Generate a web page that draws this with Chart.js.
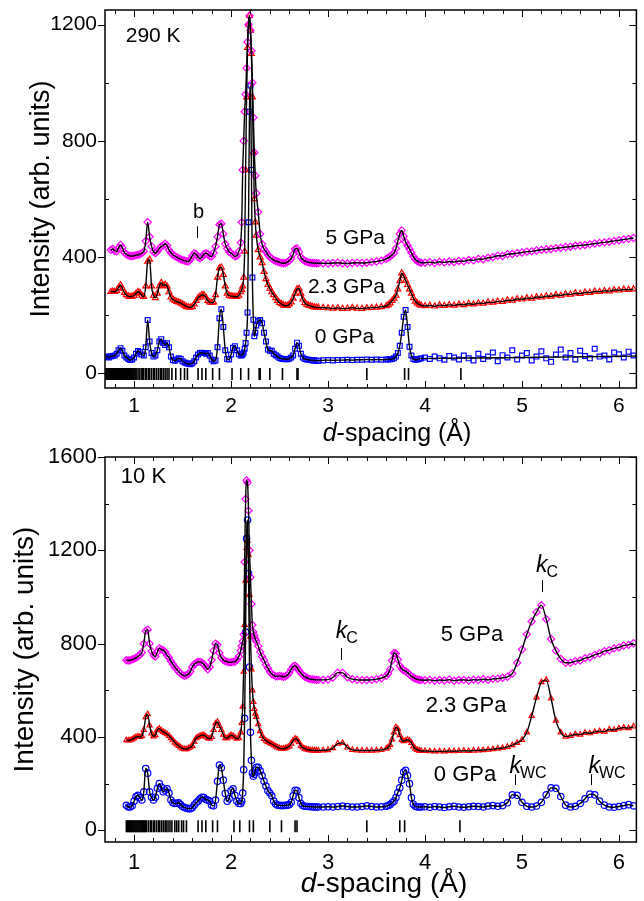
<!DOCTYPE html>
<html>
<head>
<meta charset="utf-8">
<script src="https://cdn.jsdelivr.net/npm/chart.js@4.4.0/dist/chart.umd.min.js"></script>
<style>
  html, body { margin: 0; padding: 0; background: #fff; }
  #wrap { position: relative; width: 644px; height: 901px; overflow: hidden; }
  #wrap canvas { position: absolute; left: 0; }
  #topChart { top: 0; }
  #bottomChart { top: 440px; }
</style>
</head>
<body>
<div id="wrap">
  <canvas id="topChart" width="644" height="455"></canvas>
  <canvas id="bottomChart" width="644" height="461"></canvas>
</div>
<script>
// d-spacing grid (Å), shared by every pattern
const dSpacing = [
  0.70, 0.72, 0.74, 0.76, 0.78, 0.80, 0.82, 0.84, 0.86, 0.88,
  0.90, 0.92, 0.94, 0.96, 0.98, 1.00, 1.02, 1.04, 1.06, 1.08,
  1.10, 1.12, 1.14, 1.16, 1.18, 1.20, 1.22, 1.24, 1.26, 1.28,
  1.30, 1.32, 1.34, 1.36, 1.38, 1.40, 1.42, 1.44, 1.46, 1.48,
  1.50, 1.52, 1.54, 1.56, 1.58, 1.60, 1.62, 1.64, 1.66, 1.68,
  1.70, 1.72, 1.74, 1.76, 1.78, 1.80, 1.82, 1.84, 1.86, 1.88,
  1.90, 1.92, 1.94, 1.96, 1.98, 2.00, 2.02, 2.04, 2.06, 2.08,
  2.10,
  2.11, 2.12, 2.13, 2.14, 2.15, 2.16, 2.17, 2.18, 2.19, 2.20, 2.21, 2.22, 2.23, 2.24, 2.25, 2.26,
  2.28, 2.30, 2.32, 2.34, 2.36, 2.38, 2.40, 2.42, 2.44, 2.46, 2.48, 2.50, 2.52, 2.54, 2.56, 2.58,
  2.60, 2.62, 2.64, 2.66, 2.68, 2.70, 2.72, 2.74, 2.76, 2.78, 2.80, 2.82, 2.84, 2.86, 2.88, 2.90,
  2.95, 3.00, 3.05, 3.10, 3.15, 3.20, 3.25, 3.30, 3.35, 3.40, 3.45, 3.50, 3.55, 3.60,
  3.62, 3.64, 3.66, 3.68, 3.70, 3.72, 3.74, 3.76, 3.78, 3.80, 3.82, 3.84, 3.86, 3.88, 3.90, 3.92, 3.94, 3.96,
  4.00, 4.05, 4.10, 4.15, 4.20, 4.25, 4.30, 4.35, 4.40, 4.45,
  4.50, 4.55, 4.60, 4.65, 4.70, 4.75, 4.80, 4.85, 4.90, 4.95,
  5.00, 5.05, 5.10, 5.15, 5.20, 5.25, 5.30, 5.35, 5.40, 5.45,
  5.50, 5.55, 5.60, 5.65, 5.70, 5.75, 5.80, 5.85, 5.90, 5.95,
  6.00, 6.05, 6.10, 6.15
];

// 290 K patterns
const top5 = [
  null, null, null, 425, 428, 422, 420, 432, 442, 432,
  416, 410, 406, 404, 404, 405, 407, 408, 410, 414,
  420, 455, 520, 470, 437, 418, 414, 420, 430, 437,
  440, 446, 440, 425, 415, 408, 404, 400, 396, 393,
  390, 388, 386, 385, 392, 405, 414, 410, 400, 396,
  400, 410, 414, 410, 404, 402, 415, 437, 470, 512,
  515, 480, 445, 430, 418, 414, 408, 403, 405, 420,
  450,
  520, 700, 800, 900, 960, 1050, 1140, 1200, 1230, 1180, 1110, 1000, 880, 760, 680, 620,
  555, 480, 445, 428, 419, 408, 400, 395, 390, 387, 385, 382, 380, 379, 380, 383,
  388, 395, 410, 428, 430, 418, 400, 392, 387, 384, 382, 381, 380, 380, 379, 379,
  379, 378, 380, 381, 379, 378, 380, 381, 380, 381, 383, 385, 388, 394,
  398, 402, 408, 414, 430, 455, 480, 492, 472, 452, 440, 428, 415, 402, 392, 387, 383, 381,
  381, 383, 380, 384, 382, 385, 383, 387, 386, 390,
  389, 394, 393, 398, 400, 405, 404, 410, 411, 414,
  416, 419, 420, 423, 425, 427, 428, 431, 432, 435,
  436, 439, 440, 442, 444, 447, 449, 451, 453, 456,
  458, 461, 463, 466
];
const top23 = [
  null, null, null, 281, 282, 281, 285, 295, 304, 292,
  278, 270, 266, 264, 265, 268, 275, 281, 278, 268,
  264, 300, 385, 392, 300, 268, 260, 275, 300, 312,
  302, 306, 300, 280, 262, 255, 250, 247, 245, 242,
  238, 234, 230, 228, 227, 230, 238, 250, 260, 266,
  270, 270, 262, 250, 245, 243, 245, 270, 330, 362,
  365, 340, 300, 275, 268, 266, 265, 264, 264, 268,
  280,
  288, 300, 330, 420, 700, 950, 1120, 1200, 1230, 1180, 1100, 950, 760, 600, 520, 475,
  425, 400, 380, 350, 325, 305, 292, 280, 270, 260, 250, 243, 239, 235, 233, 233,
  238, 245, 258, 275, 290, 292, 275, 255, 243, 237, 234, 232, 230, 228, 227, 227,
  226, 225, 224, 225, 223, 224, 226, 224, 223, 225, 226, 227, 229, 232,
  236, 242, 250, 258, 268, 290, 318, 345, 335, 320, 305, 290, 275, 260, 248, 242, 237, 234,
  232, 234, 231, 235, 233, 236, 234, 238, 236, 240,
  238, 242, 241, 245, 244, 248, 247, 252, 251, 256,
  255, 259, 258, 263, 262, 266, 265, 270, 268, 273,
  272, 276, 274, 279, 278, 282, 281, 284, 283, 287,
  286, 289, 288, 290
];
const top0 = [
  57, 58, 55, 58, 60, 62, 68, 80, 87, 78,
  62, 55, 50, 46, 48, 55, 68, 77, 74, 65,
  62, 90, 184, 110, 70, 58, 62, 80, 110, 118,
  105, 98, 104, 90, 58, 46, 44, 48, 52, 50,
  42, 38, 35, 33, 32, 35, 42, 55, 65, 70,
  71, 70, 68, 70, 62, 48, 42, 45, 90, 190,
  221, 160, 80, 50, 48, 65, 88, 94, 80, 66,
  62,
  63, 66, 72, 85, 105, 140, 210, 520, 900, 990, 700, 330, 185, 128, 140, 165,
  180, 184, 173, 140, 110, 82, 78, 78, 68, 63, 58, 53, 51, 50, 49, 49,
  51, 55, 62, 85, 106, 95, 68, 55, 50, 48, 47, 46, 45, 45, 44, 44,
  45, 46, 45, 46, 46, 47, 46, 47, 47, 48, 47, 48, 47, 48,
  48, 49, 50, 52, 58, 70, 95, 140, 195, 218, 160, 92, 62, 50, 47, 48, 50, 52,
  55, 50, 58, 52, 47, 60, 55, 48, 62, 52,
  45, 68, 50, 58, 72, 42, 63, 55, 80, 48,
  62, 70, 45, 58, 76, 52, 40, 65, 82, 55,
  70, 48, 78, 60, 52, 85, 58, 62, 48, 72,
  66, 55, 75, 62
];
// smooth fit under the noisy 0 GPa tail
const top0FitD = [4.0, 4.5, 5.0, 5.5, 6.0, 6.18];
const top0Fit = [52, 53, 55, 57, 59, 60];

// 10 K patterns
const bot5 = [
  null, null, null, null, null, null, null, null, null, null,
  null, 729, 728, 729, 732, 735, 740, 745, 752, 762,
  800, 855, 860, 800, 768, 750, 745, 765, 780, 775,
  772, 765, 750, 740, 725, 712, 700, 690, 680, 672,
  665, 662, 665, 670, 680, 700, 712, 718, 722, 722,
  718, 712, 700, 690, 700, 730, 770, 800, 795, 760,
  740, 730, 725, 722, 720, 720, 722, 722, 730, 745,
  770,
  790, 810, 840, 1150, 1420, 1500, 1490, 1370, 1200, 1085, 970, 880, 850, 835, 820, 810,
  790, 765, 745, 729, 710, 695, 680, 670, 665, 660, 660, 662, 660, 658, 660, 665,
  675, 690, 702, 706, 698, 685, 675, 665, 658, 655, 650, 648, 647, 646, 645, 645,
  645, 646, 655, 676, 675, 656, 648, 645, 644, 644, 645, 648, 652, 662,
  672, 690, 728, 760, 758, 732, 705, 692, 686, 682, 676, 668, 660, 655, 650, 647, 645, 644,
  643, 645, 641, 644, 642, 646, 641, 644, 645, 642,
  646, 644, 648, 645, 649, 650, 654, 658, 672, 718,
  775, 840, 895, 935, 965, 905, 820, 770, 735, 718,
  718, 725, 728, 738, 742, 752, 758, 768, 772, 780,
  784, 792, 795, 802
];
const bot23 = [
  null, null, null, null, null, null, null, null, null, null,
  null, 386, 385, 386, 390, 395, 400, 402, 400, 405,
  430, 485, 498, 450, 415, 403, 408, 430, 436, 428,
  422, 418, 412, 405, 395, 386, 376, 368, 362, 355,
  350, 348, 348, 352, 356, 362, 380, 395, 400, 405,
  408, 408, 402, 395, 393, 400, 430, 458, 465, 448,
  430, 410, 395, 395, 402, 408, 405, 398, 393, 396,
  420,
  460, 530, 680, 880, 1070, 1210, 1240, 1180, 1010, 830, 690, 600, 550, 520, 500, 486,
  455, 425, 405, 392, 384, 379, 374, 370, 365, 360, 355, 352, 350, 350, 352, 355,
  360, 372, 385, 393, 390, 378, 362, 355, 350, 347, 345, 343, 343, 342, 342, 342,
  343, 344, 352, 372, 375, 355, 345, 343, 342, 342, 342, 343, 345, 350,
  356, 366, 390, 420, 442, 435, 408, 388, 382, 385, 388, 385, 375, 360, 350, 345, 342, 340,
  340, 339, 338, 339, 338, 340, 339, 340, 341, 340,
  342, 343, 344, 346, 348, 350, 353, 358, 365, 375,
  388, 420, 490, 570, 635, 645, 565, 470, 420, 402,
  405, 412, 410, 418, 416, 422, 425, 423, 432, 430,
  437, 440, 438, 445
];
const bot0 = [
  null, null, null, null, null, null, null, null, null, null,
  null, 107, 100, 100, 105, 125, 145, 150, 140, 130,
  165, 265, 245, 165, 142, 130, 142, 180, 200, 185,
  165, 172, 178, 160, 130, 118, 115, 116, 118, 110,
  102, 98, 95, 93, 93, 97, 108, 118, 125, 135,
  142, 140, 132, 130, 125, 108, 105, 130, 210, 280,
  268, 215, 158, 125, 135, 170, 178, 150, 125, 115,
  115,
  125, 160, 260, 480, 850, 1250, 1330, 1100, 700, 420, 300, 245, 232, 240, 258, 270,
  270, 255, 235, 210, 190, 170, 160, 148, 125, 113, 108, 107, 106, 106, 107, 108,
  110, 120, 148, 172, 170, 140, 115, 106, 103, 102, 102, 101, 101, 100, 100, 100,
  100, 101, 100, 102, 104, 102, 100, 100, 102, 105, 102, 100, 101, 103,
  106, 110, 118, 125, 140, 162, 182, 215, 250, 257, 235, 200, 140, 112, 103, 100, 100, 100,
  101, 99, 102, 100, 98, 101, 103, 100, 99, 101,
  103, 102, 100, 104, 106, 103, 106, 118, 152, 150,
  120, 103, 100, 104, 120, 152, 182, 180, 145, 108,
  100, 103, 115, 135, 155, 152, 125, 108, 100, 99,
  102, 106, 110, 105
];

// reflection markers (Å)
const braggTop = [
  0.71, 0.72, 0.73, 0.74, 0.75, 0.76, 0.77, 0.78, 0.79, 0.80,
  0.81, 0.82, 0.83, 0.84, 0.85, 0.86, 0.87, 0.88, 0.89, 0.90,
  0.91, 0.92, 0.93, 0.94, 0.95, 0.96, 0.97, 0.98, 0.99, 1.00,
  1.01, 1.02, 1.03, 1.05, 1.06, 1.08, 1.09, 1.10, 1.12, 1.13,
  1.15, 1.16, 1.18, 1.20, 1.21, 1.23, 1.25, 1.27, 1.28, 1.30,
  1.32, 1.34, 1.36, 1.39, 1.43, 1.48, 1.52, 1.55, 1.66, 1.70,
  1.74, 1.81, 1.88, 2.01, 2.10, 2.18, 2.29, 2.30, 2.40, 2.53,
  2.68, 2.69, 3.40, 3.79, 3.83, 4.37
];
const braggBottom = [
  0.92, 0.93, 0.94, 0.95, 0.96, 0.97, 0.98, 0.99, 1.00, 1.01,
  1.02, 1.03, 1.04, 1.05, 1.06, 1.07, 1.08, 1.09, 1.10, 1.11,
  1.12, 1.13, 1.15, 1.17, 1.18, 1.20, 1.21, 1.23, 1.25, 1.26,
  1.28, 1.30, 1.32, 1.33, 1.35, 1.37, 1.39, 1.42, 1.44, 1.46,
  1.49, 1.51, 1.54, 1.66, 1.70, 1.74, 1.81, 1.86, 2.03, 2.09,
  2.19, 2.23, 2.40, 2.52, 2.66, 2.68, 3.40, 3.74, 3.79, 4.36
];

const xTicks = [1, 2, 3, 4, 5, 6];
const yTicksTop = [0, 400, 800, 1200];
const yTicksBottom = [0, 400, 800, 1200, 1600];

const FONT = "'Liberation Sans', Arial, Helvetica, sans-serif";
const MAGENTA = '#ff00ff', RED = '#ff0000', BLUE = '#0000ff';

function pts(ys) {
  return dSpacing.map((d, i) => ({ x: d, y: ys[i] })).filter(p => p.y != null);
}

// frame with inward ticks (Origin style)
const framePlugin = {
  id: 'frame',
  afterDatasetsDraw(chart) {
    const { ctx, chartArea: a, scales: { x, y } } = chart;
    ctx.save();
    ctx.strokeStyle = '#000';
    ctx.lineWidth = 1.5;
    ctx.strokeRect(a.left, a.top, a.right - a.left, a.bottom - a.top);
    ctx.lineWidth = 1;
    ctx.beginPath();
    for (let k = 4; k / 5 <= x.max; k++) {
      const px = Math.round(x.getPixelForValue(k / 5)) + 0.5;
      const len = k % 5 === 0 ? 7 : 4;
      ctx.moveTo(px, a.bottom); ctx.lineTo(px, a.bottom - len);
      ctx.moveTo(px, a.top); ctx.lineTo(px, a.top + len);
    }
    for (let v = 0; v <= y.max; v += 200) {
      const py = Math.round(y.getPixelForValue(v)) + 0.5;
      if (v % 400 === 0) {
        ctx.moveTo(a.left - 7, py); ctx.lineTo(a.left, py);
        ctx.moveTo(a.right, py); ctx.lineTo(a.right - 7, py);
      } else {
        ctx.moveTo(a.left, py); ctx.lineTo(a.left + 4, py);
        ctx.moveTo(a.right, py); ctx.lineTo(a.right - 4, py);
      }
    }
    ctx.stroke();
    ctx.restore();
  }
};

// labels, small marker ticks and the x title
const notesPlugin = {
  id: 'notes',
  afterDraw(chart, args, opts) {
    const { ctx, scales: { x, y } } = chart;
    ctx.save();
    ctx.fillStyle = '#000';
    ctx.strokeStyle = '#000';
    ctx.lineWidth = 1;
    (opts.items || []).forEach(n => {
      if (n.t === 'text') {
        ctx.font = `${n.size}px ${FONT}`;
        ctx.textAlign = n.align || 'center';
        ctx.textBaseline = 'middle';
        ctx.fillText(n.text, x.getPixelForValue(n.x), y.getPixelForValue(n.y));
      } else if (n.t === 'tick') {
        const px = Math.round(x.getPixelForValue(n.x)) + 0.5;
        ctx.beginPath();
        ctx.moveTo(px, y.getPixelForValue(n.y1));
        ctx.lineTo(px, y.getPixelForValue(n.y2));
        ctx.stroke();
      } else if (n.t === 'k') {
        const px = x.getPixelForValue(n.x), py = y.getPixelForValue(n.y);
        ctx.textAlign = 'left';
        ctx.textBaseline = 'alphabetic';
        ctx.font = `italic 23px ${FONT}`;
        ctx.fillText('k', px, py);
        const w = ctx.measureText('k').width;
        ctx.font = `16px ${FONT}`;
        ctx.fillText(n.sub, px + w - 1, py + 5);
      }
    });
    const t = opts.xTitle;
    if (t) {
      ctx.textBaseline = 'middle';
      ctx.textAlign = 'left';
      ctx.font = `italic ${t.size}px ${FONT}`;
      const w1 = ctx.measureText('d').width;
      ctx.font = `${t.size}px ${FONT}`;
      const rest = '-spacing (Å)';
      const w2 = ctx.measureText(rest).width;
      const x0 = t.cx - (w1 + w2) / 2;
      ctx.font = `italic ${t.size}px ${FONT}`;
      ctx.fillText('d', x0, t.cy);
      ctx.font = `${t.size}px ${FONT}`;
      ctx.fillText(rest, x0 + w1, t.cy);
    }
    ctx.restore();
  }
};

function makePanel(id, p) {
  const datasets = [];
  p.series.forEach(s => {
    datasets.push({
      data: s.line || pts(s.ys), showLine: true, borderColor: '#000', borderWidth: 1.4,
      pointRadius: 0, cubicInterpolationMode: 'monotone', order: 0
    });
    datasets.push({
      data: pts(s.ys), showLine: false, pointStyle: s.style, pointRadius: s.radius,
      borderColor: s.color, pointBorderColor: s.color, pointBackgroundColor: 'rgba(0,0,0,0)',
      pointBorderWidth: 1.2, order: 1
    });
  });
  datasets.push({
    data: p.bragg.map(d => ({ x: d, y: p.braggY })), showLine: false, pointStyle: 'line',
    rotation: 90, pointRadius: 6, borderColor: '#000', pointBorderColor: '#000',
    pointBorderWidth: 1.6, order: 2
  });

  return new Chart(document.getElementById(id), {
    type: 'scatter',
    data: { datasets },
    options: {
      responsive: false,
      animation: false,
      devicePixelRatio: 1,
      layout: { padding: { top: p.padTop, left: 0, right: 0, bottom: 0 } },
      plugins: {
        legend: { display: false },
        tooltip: { enabled: false },
        notes: { items: p.notes, xTitle: p.xTitle }
      },
      scales: {
        x: {
          type: 'linear', min: 0.7, max: 6.18,
          grid: { display: false, drawTicks: false },
          border: { display: false },
          ticks: {
            font: { family: FONT, size: p.tickSize }, color: '#000', padding: p.xPad,
            callback: v => String(v)
          },
          afterBuildTicks: s => { s.ticks = xTicks.map(v => ({ value: v })); },
          afterFit: s => { s.height = p.xHeight; s.paddingLeft = 0; s.paddingRight = 0; }
        },
        y: {
          type: 'linear', min: -50, max: p.yMax,
          grid: { display: false, drawTicks: false },
          border: { display: false },
          ticks: {
            font: { family: FONT, size: p.tickSize }, color: '#000', padding: 8,
            callback: v => String(v)
          },
          title: {
            display: true, text: 'Intensity (arb. units)', color: '#000',
            font: { family: FONT, size: p.yTitleSize }, padding: { top: p.yTitlePad, bottom: 0 }
          },
          afterBuildTicks: s => { s.ticks = p.yTicks.map(v => ({ value: v })); },
          afterFit: s => { s.width = 105; s.paddingTop = 0; s.paddingBottom = 0; }
        }
      }
    },
    plugins: [framePlugin, notesPlugin]
  });
}

const top0Line = pts(top0).filter(pt => pt.x < 4)
  .concat(top0FitD.map((d, i) => ({ x: d, y: top0Fit[i] })));

makePanel('topChart', {
  padTop: 10, xHeight: 67, xPad: 6, yMax: 1250, yTicks: yTicksTop,
  tickSize: 21, yTitleSize: 27, yTitlePad: 25,
  bragg: braggTop, braggY: -2,
  series: [
    { ys: top5, color: MAGENTA, style: 'rectRot', radius: 3.6 },
    { ys: top23, color: RED, style: 'triangle', radius: 3.4 },
    { ys: top0, line: top0Line, color: BLUE, style: 'rect', radius: 3.4 }
  ],
  notes: [
    { t: 'text', x: 0.914, y: 1160, text: '290 K', size: 21, align: 'left' },
    { t: 'text', x: 3.28, y: 466, text: '5 GPa', size: 21 },
    { t: 'text', x: 3.19, y: 297, text: '2.3 GPa', size: 21 },
    { t: 'text', x: 3.17, y: 126, text: '0 GPa', size: 21 },
    { t: 'text', x: 1.666, y: 552, text: 'b', size: 20 },
    { t: 'tick', x: 1.646, y1: 466, y2: 506 }
  ],
  xTitle: { cx: 397, cy: 434, size: 25 }
});

makePanel('bottomChart', {
  padTop: 17, xHeight: 59, xPad: 8, yMax: 1600, yTicks: yTicksBottom,
  tickSize: 22, yTitleSize: 28, yTitlePad: 8,
  bragg: braggBottom, braggY: 18,
  series: [
    { ys: bot5, color: MAGENTA, style: 'rectRot', radius: 3.6 },
    { ys: bot23, color: RED, style: 'triangle', radius: 3 },
    { ys: bot0, color: BLUE, style: 'circle', radius: 3.2 }
  ],
  notes: [
    { t: 'text', x: 0.863, y: 1514, text: '10 K', size: 22, align: 'left' },
    { t: 'text', x: 4.484, y: 837, text: '5 GPa', size: 22 },
    { t: 'text', x: 4.423, y: 533, text: '2.3 GPa', size: 22 },
    { t: 'text', x: 4.413, y: 237, text: '0 GPa', size: 22 },
    { t: 'k', x: 3.080, y: 824, sub: 'C' },
    { t: 'tick', x: 3.131, y1: 730, y2: 781 },
    { t: 'k', x: 5.145, y: 1107, sub: 'C' },
    { t: 'tick', x: 5.207, y1: 1021, y2: 1073 },
    { t: 'k', x: 4.871, y: 246, sub: 'WC' },
    { t: 'tick', x: 4.932, y1: 194, y2: 240 },
    { t: 'k', x: 5.685, y: 246, sub: 'WC' },
    { t: 'tick', x: 5.716, y1: 194, y2: 240 }
  ],
  xTitle: { cx: 384, cy: 444, size: 28 }
});
</script>
</body>
</html>
